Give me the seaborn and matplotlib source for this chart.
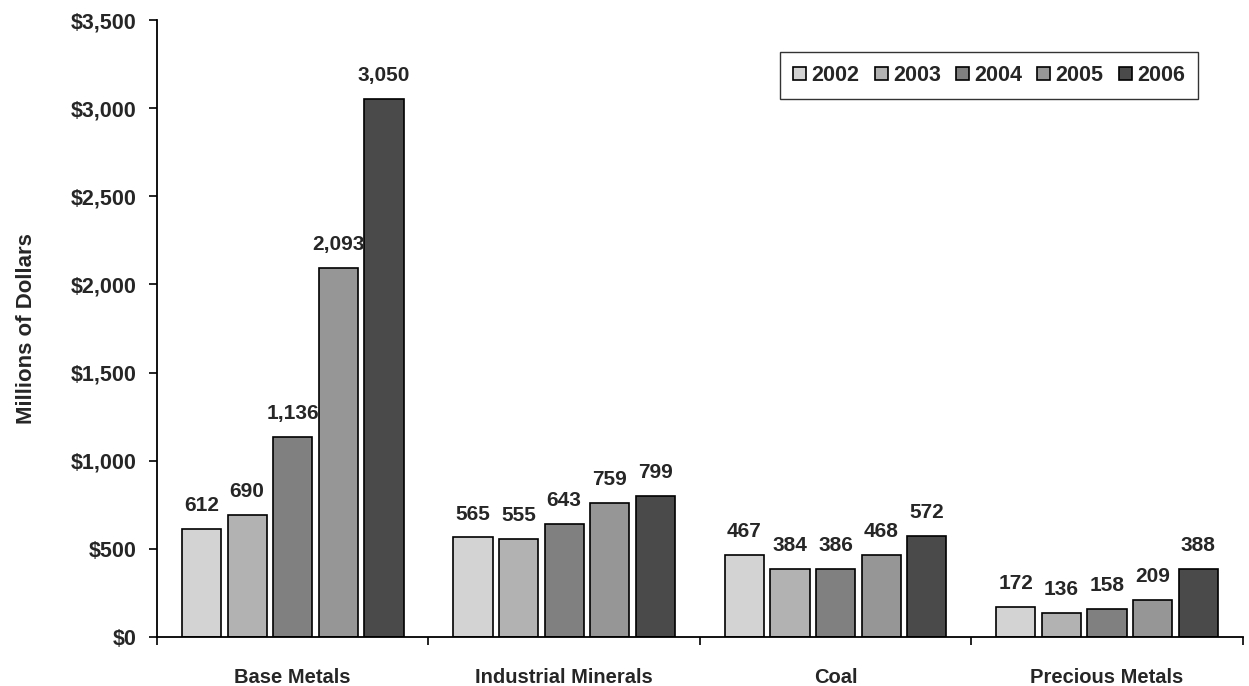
import pandas as pd
import matplotlib.pyplot as plt
import seaborn as sns
from matplotlib.ticker import FuncFormatter, FixedLocator

categories = ['Base Metals', 'Industrial Minerals', 'Coal', 'Precious Metals']
years = ['2002', '2003', '2004', '2005', '2006']
values = {
    '2002': [612, 565, 467, 172],
    '2003': [690, 555, 384, 136],
    '2004': [1136, 643, 386, 158],
    '2005': [2093, 759, 468, 209],
    '2006': [3050, 799, 572, 388],
}
colors = ['#d3d3d3', '#b2b2b2', '#808080', '#969696', '#4a4a4a']

sns.set_theme(style='white')
plt.rcParams['font.family'] = ['Liberation Sans', 'DejaVu Sans']
plt.rcParams['font.weight'] = 'bold'

rows = [(c, y, values[y][i]) for y in years for i, c in enumerate(categories)]
df = pd.DataFrame(rows, columns=['category', 'year', 'value'])

fig = plt.figure(figsize=(12.49, 6.86), dpi=100)
ax = fig.add_axes([0.1257, 0.0714, 0.8693, 0.8994])

sns.barplot(data=df, x='category', y='value', hue='year', palette=colors,
            width=0.84, gap=0.14, edgecolor='black', linewidth=1.2,
            saturation=1, ax=ax)

for container in ax.containers:
    ax.bar_label(container, labels=[f'{v:,.0f}' for v in container.datavalues],
                 padding=10, fontsize=15, fontweight='bold')

ax.set_ylim(0, 3500)
ax.set_xlim(-0.5, 3.5)
ax.set_yticks(range(0, 3501, 500))
ax.yaxis.set_major_formatter(FuncFormatter(lambda v, p: f'${v:,.0f}'))
ax.set_xlabel('')
ax.set_ylabel('Millions of Dollars', fontsize=16, fontweight='bold', labelpad=24)

for s in ['top', 'right']:
    ax.spines[s].set_visible(False)
for s in ['left', 'bottom']:
    ax.spines[s].set_color('black')
    ax.spines[s].set_linewidth(1.3)

ax.tick_params(axis='y', which='major', direction='out', length=6, width=1.2,
               left=True, labelsize=15.5, pad=9, color='black')
ax.tick_params(axis='x', which='major', length=0, labelsize=14.5, pad=22)
ax.xaxis.set_minor_locator(FixedLocator([-0.5, 0.5, 1.5, 2.5, 3.5]))
ax.tick_params(axis='x', which='minor', direction='out', length=6, width=1.2,
               bottom=True, color='black')
for lbl in ax.get_xticklabels() + ax.get_yticklabels():
    lbl.set_fontweight('bold')

leg = ax.legend(title=None, ncol=5, loc='upper right', bbox_to_anchor=(0.9586, 0.948),
                borderaxespad=0, fontsize=15.5, frameon=True, handlelength=0.6,
                handleheight=0.6, handletextpad=0.25, columnspacing=0.7,
                borderpad=0.6, fancybox=False)
leg.get_frame().set_edgecolor('black')
leg.get_frame().set_linewidth(1.0)
for t in leg.get_texts():
    t.set_fontweight('bold')

fig.savefig('out.png', dpi=100)
